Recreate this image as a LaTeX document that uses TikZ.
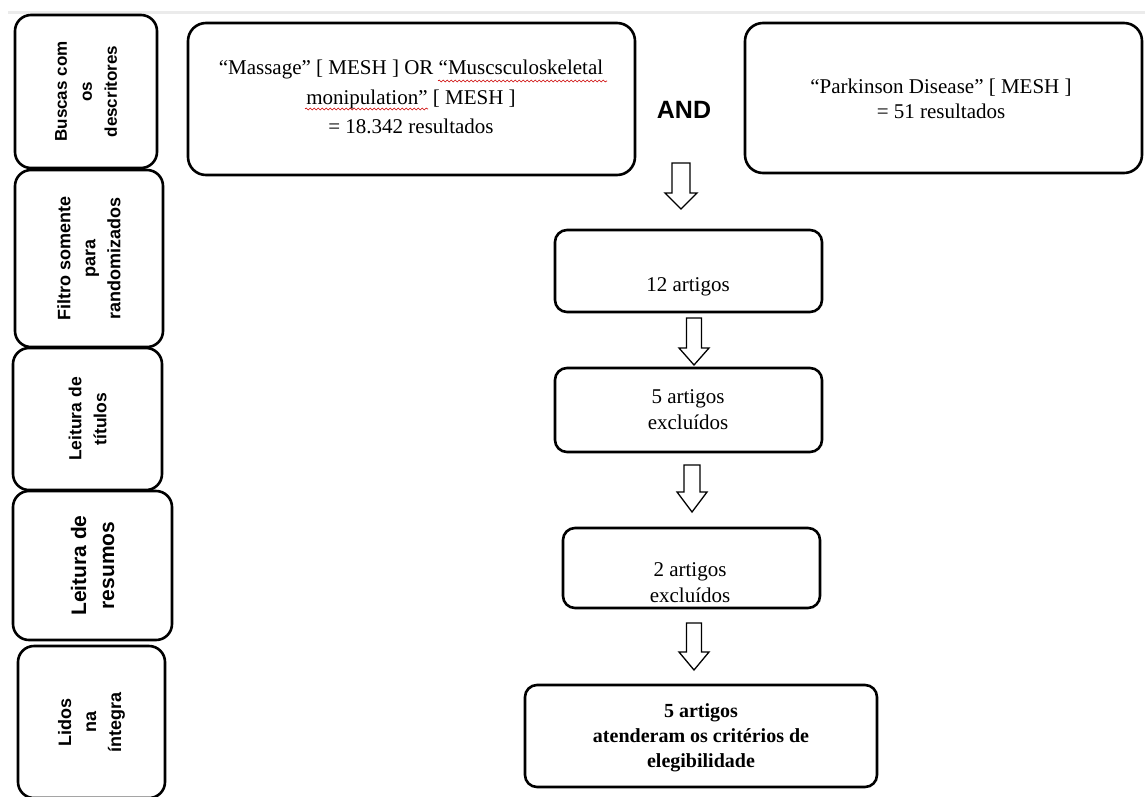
\documentclass[tikz,border=0pt]{standalone}
\usepackage{fontspec}
\setmainfont{Liberation Serif}
\setsansfont{Liberation Sans}
\usetikzlibrary{decorations.pathmorphing}
\tikzset{
  sidebox/.style={draw, line width=2.6pt, rounded corners=16pt, inner sep=0pt},
  mainbox/.style={draw, line width=2.6pt, rounded corners=18pt, inner sep=0pt},
  flowbox/.style={draw, line width=2.6pt, rounded corners=12pt, inner sep=0pt},
  sidetext/.style={rotate=90, align=center, font=\sffamily\bfseries\fontsize{#1}{25}\selectfont, inner sep=0pt},
  serif/.style={align=center, font=\rmfamily\fontsize{21}{#1}\selectfont, inner sep=0pt},
  barrow/.style={draw=black, line width=1.3pt, fill=white, line join=miter},
  squig/.style={draw=red!80!black, line width=0.6pt, decorate, decoration={snake, segment length=4pt, amplitude=1pt}}
}
\newcommand\blockarrowdown[6]{%
  \draw[barrow] (#1-#5,#2) -- (#1+#5,#2) -- (#1+#5,#3) -- (#1+#6,#3) -- (#1,#4) -- (#1-#6,#3) -- (#1-#5,#3) -- cycle;}
\begin{document}
\begin{tikzpicture}[x=1pt,y=-1pt]
\useasboundingbox (0,0) rectangle (1145,796);
\fill[white] (0,0) rectangle (1145,796);
\draw[line width=3pt, black!8] (8,12) -- (1145,12);

% side boxes
\node[sidebox, minimum width=142pt, minimum height=153pt] (L1) at (86,91.5) {};
\node[sidebox, minimum width=148pt, minimum height=177pt] (L2) at (89,258.5) {};
\node[sidebox, minimum width=149pt, minimum height=142pt] (L3) at (87.5,419) {};
\node[sidebox, minimum width=159pt, minimum height=149pt] (L4) at (92.5,565.5) {};
\node[sidebox, minimum width=147pt, minimum height=152pt] (L5) at (91.5,722) {};
\node[sidetext=17] (T1) at (L1.center) {Buscas com\\os\\descritores};
\node[sidetext=18] (T2) at (L2.center) {Filtro somente\\para\\randomizados};
\node[sidetext=17.5] (T3) at (L3.center) {Leitura de\\títulos};
\node[sidetext=21, font=\sffamily\bfseries\fontsize{21}{28}\selectfont] (T4) at (L4.center) {Leitura de\\resumos};
\node[sidetext=18] (T5) at (L5.center) {Lidos\\na\\íntegra};

% main boxes
\node[mainbox, minimum width=447pt, minimum height=152pt] (M1) at (411.5,99) {};
\node[mainbox, minimum width=397pt, minimum height=150pt] (M2) at (943.5,98) {};
\node[serif=29.5] (M1t) at (411,97) {“Massage” [ MESH ] OR “Muscsculoskeletal\\monipulation” [ MESH ]\\= 18.342 resultados};
\node[serif=25] (M2t) at (941,99) {“Parkinson Disease” [ MESH ]\\= 51 resultados};
\node[font=\sffamily\bfseries\fontsize{25}{25}\selectfont, inner sep=0pt] (AND) at (684,110) {AND};

% flow boxes
\node[flowbox, minimum width=267pt, minimum height=82pt] (B1) at (688.5,271) {};
\node[flowbox, minimum width=267pt, minimum height=84pt] (B2) at (688.5,410) {};
\node[flowbox, minimum width=257pt, minimum height=80pt] (B3) at (691.5,568) {};
\node[flowbox, minimum width=352pt, minimum height=102pt] (B4) at (701,736) {};
\node[serif=26] (B1t) at (688,287) {12 artigos};
\node[serif=26] (B2t) at (688,410) {5 artigos\\excluídos};
\node[serif=26] (B3t) at (690,583) {2 artigos\\excluídos};
\node[align=center, font=\rmfamily\bfseries\fontsize{20}{25}\selectfont, inner sep=0pt] (B4t) at (701,738) {5 artigos\\atenderam os critérios de\\elegibilidade};

% spell-check squiggles
\draw[squig] (438,81) -- (607,81);
\draw[squig] (305,109) -- (428,109);

% block arrows
\blockarrowdown{681}{163}{193}{209}{9}{16}
\blockarrowdown{694}{318}{348}{365}{7.5}{15}
\blockarrowdown{692}{465}{492}{512}{8}{15}
\blockarrowdown{694}{623}{652}{670}{7.5}{15}
\end{tikzpicture}
\end{document}
